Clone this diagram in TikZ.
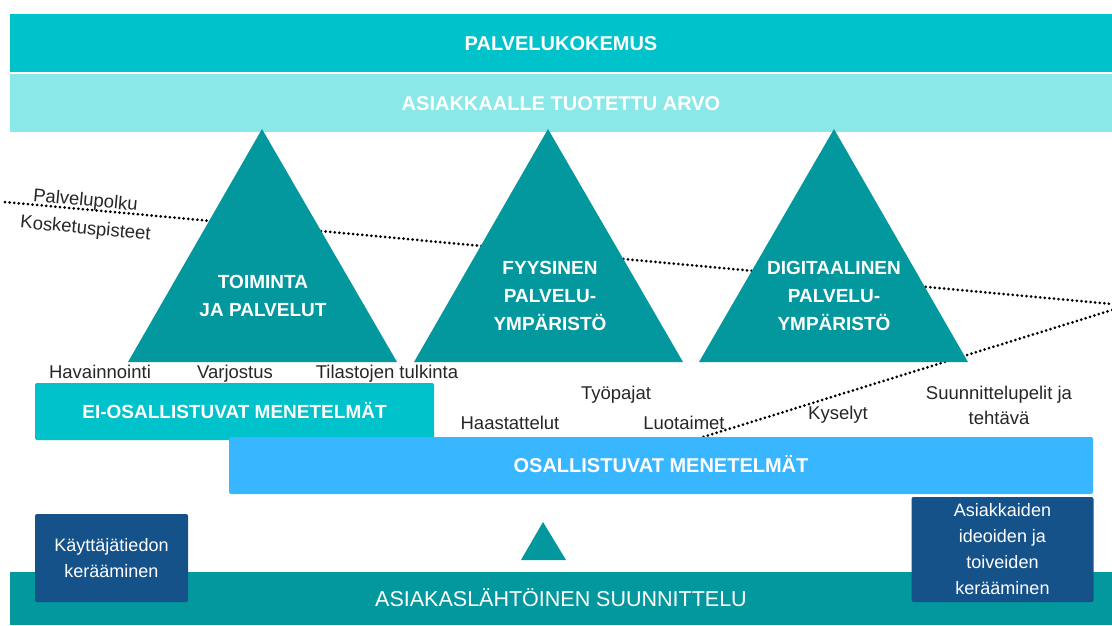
\documentclass[tikz,border=0pt]{standalone}
\usepackage{fontspec}
\setmainfont{Liberation Sans}
\usepackage{tikz}

\definecolor{turkoosi}{HTML}{00C2CB}
\definecolor{vaalea}{HTML}{8AE9E8}
\definecolor{petrooli}{HTML}{03989E}
\definecolor{taivas}{HTML}{38B6FF}
\definecolor{tumma}{HTML}{16528A}

\tikzset{
  kaista/.style={minimum width=1102pt, minimum height=58pt, text=white,
    font=\fontsize{20}{24}\selectfont\bfseries, text height=14pt, text depth=0pt},
  laatikko/.style={rounded corners=2pt, text=white,
    font=\fontsize{19}{24}\selectfont\bfseries, text height=13.5pt, text depth=0pt},
  kolmio/.style={fill=petrooli},
  kolmioteksti/.style={text=white, align=center,
    font=\fontsize{19}{28}\selectfont\bfseries},
  keruu/.style={fill=tumma, rounded corners=2pt, text=white, align=center,
    font=\fontsize{18}{26}\selectfont},
  menetelma/.style={text=black!85, anchor=base, align=center,
    font=\fontsize{18.5}{25}\selectfont},
  polku/.style={black, line width=3pt, line cap=round, dash pattern=on 0pt off 4.6pt},
}

\begin{document}
\begin{tikzpicture}[x=1pt,y=-1pt]
            \tikzstyle{every node}+=[inner sep=0pt]
            \useasboundingbox (0,0) rectangle (1112,625);
            % ylakaistat
            \node [kaista, fill=turkoosi] (kokemus) at (561,43) {PALVELUKOKEMUS};
            \node [kaista, fill=vaalea] (arvo) at (561,103) {ASIAKKAALLE TUOTETTU ARVO};
            % palvelupolku
            \coordinate (polkuA) at (5,202);
            \coordinate (polkuB) at (1112,304);
            \coordinate (polkuC) at (1112,310);
            \coordinate (polkuD) at (703,437);
            \draw [polku] (polkuA) -- (polkuB);
            \draw [polku] (polkuC) -- (polkuD);
            \node [menetelma, rotate=-5.3] (palvelupolku) at (85,206) {Palvelupolku};
            \node [menetelma, rotate=-5.3] (kosketus) at (85,234) {Kosketuspisteet};
            % kolmiot
            \fill [kolmio] (262,129) -- (397,362) -- (128,362) -- cycle;
            \fill [kolmio] (548,129) -- (683,362) -- (414,362) -- cycle;
            \fill [kolmio] (834,129) -- (968,362) -- (699,362) -- cycle;
            \node [kolmioteksti] (toiminta) at (263,296) {TOIMINTA\\JA PALVELUT};
            \node [kolmioteksti] (fyysinen) at (550,296) {FYYSINEN\\PALVELU-\\YMPÄRISTÖ};
            \node [kolmioteksti] (digitaalinen) at (834,296) {DIGITAALINEN\\PALVELU-\\YMPÄRISTÖ};
            % menetelmat
            \node [menetelma] (havainnointi) at (100,378) {Havainnointi};
            \node [menetelma] (varjostus) at (235,378) {Varjostus};
            \node [menetelma] (tilastot) at (387,378) {Tilastojen tulkinta};
            \node [menetelma] (tyopajat) at (616,399) {Työpajat};
            \node [menetelma] (haastattelut) at (510,429) {Haastattelut};
            \node [menetelma] (luotaimet) at (684,429) {Luotaimet};
            \node [menetelma] (kyselyt) at (838,419) {Kyselyt};
            \node [menetelma] (pelit) at (999,424) {Suunnittelupelit ja\\tehtävä};
            \node [laatikko, fill=turkoosi, minimum width=399pt, minimum height=57pt] (eiosall) at (234.5,411.5) {EI-OSALLISTUVAT MENETELMÄT};
            \node [laatikko, fill=taivas, minimum width=864pt, minimum height=57pt, font=\fontsize{20}{24}\selectfont\bfseries] (osall) at (661,465.5) {OSALLISTUVAT MENETELMÄT};
            % alaosa
            \node [kaista, fill=petrooli, minimum height=53pt, font=\fontsize{21.5}{24}\selectfont, text height=15pt] (suunnittelu) at (561,598.5) {ASIAKASLÄHTÖINEN SUUNNITTELU};
            \fill [kolmio] (543,522) -- (566,560) -- (521,560) -- cycle;
            \node [keruu, minimum width=153pt, minimum height=88pt] (kayttajatieto) at (111.5,558) {Käyttäjätiedon\\kerääminen};
            \node [keruu, minimum width=182pt, minimum height=105pt] (ideat) at (1002.5,549.5) {Asiakkaiden\\ideoiden ja\\toiveiden\\kerääminen};
\end{tikzpicture}
\end{document}
